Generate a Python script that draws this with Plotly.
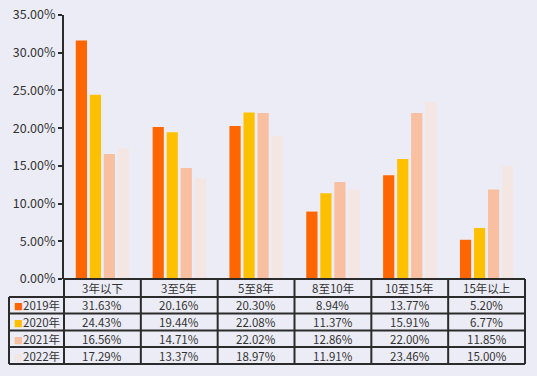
import plotly.graph_objects as go

categories = ["3年以下", "3至5年", "5至8年", "8至10年", "10至15年", "15年以上"]
series_names = ["2019年", "2020年", "2021年", "2022年"]
v2019 = [31.63, 20.16, 20.30, 8.94, 13.77, 5.20]
v2020 = [24.43, 19.44, 22.08, 11.37, 15.91, 6.77]
v2021 = [16.56, 14.71, 22.02, 12.86, 22.00, 11.85]
v2022 = [17.29, 13.37, 18.97, 11.91, 23.46, 15.00]
series_values = [v2019, v2020, v2021, v2022]
colors = ["#FF6600", "#FFC000", "#F8BFA0", "#F3E6E3"]

W, H = 537, 376
L, R, T, B = 64, 525, 15, 279
FONT = "Noto Sans CJK SC, Noto Sans, sans-serif"
LINE = "#2b2b2b"

fig = go.Figure()
for name, vals, c in zip(series_names, series_values, colors):
    fig.add_trace(go.Bar(x=categories, y=vals, name=name, marker_color=c,
                         marker_line_width=0, showlegend=False))

def py(p):
    return (B - p) / (B - T)

def px(p):
    return (p - L) / (R - L)

row_edges = [279, 297, 313.5, 330.5, 347, 364]
ncol = len(categories)
col_w = (R - L) / ncol
col_edges = [L + i * col_w for i in range(ncol + 1)]
label_left = 9

shapes = []
shapes.append(dict(type="line", xref="paper", yref="paper", x0=px(L), x1=px(R),
                   y0=py(row_edges[0]), y1=py(row_edges[0]), line=dict(color=LINE, width=2)))
for r in row_edges[1:]:
    shapes.append(dict(type="line", xref="paper", yref="paper", x0=px(label_left), x1=px(R),
                       y0=py(r), y1=py(r), line=dict(color=LINE, width=2)))
for cx in col_edges:
    shapes.append(dict(type="line", xref="paper", yref="paper", x0=px(cx), x1=px(cx),
                       y0=py(row_edges[0]), y1=py(row_edges[-1]), line=dict(color=LINE, width=2)))
shapes.append(dict(type="line", xref="paper", yref="paper", x0=px(label_left), x1=px(label_left),
                   y0=py(row_edges[1]), y1=py(row_edges[-1]), line=dict(color=LINE, width=2)))

annotations = []
for i, cat in enumerate(categories):
    xc = px((col_edges[i] + col_edges[i + 1]) / 2)
    annotations.append(dict(xref="paper", yref="paper", x=xc, y=py((row_edges[0] + row_edges[1]) / 2),
                            xanchor="center", yanchor="middle",
                            text=cat, showarrow=False, font=dict(size=11.5, color="#333", family=FONT)))
    for j, vals in enumerate(series_values):
        yc = py((row_edges[j + 1] + row_edges[j + 2]) / 2)
        annotations.append(dict(xref="paper", yref="paper", x=xc, y=yc,
                                xanchor="center", yanchor="middle",
                                text=f"{vals[i]:.2f}%", showarrow=False,
                                font=dict(size=11.5, color="#333", family=FONT)))
for j, (name, c) in enumerate(zip(series_names, colors)):
    yc = py((row_edges[j + 1] + row_edges[j + 2]) / 2)
    annotations.append(dict(xref="paper", yref="paper", x=px(label_left + 3), xanchor="left", y=yc,
                            yanchor="middle",
                            text=f"<span style='color:{c};font-size:9px'>■</span>{name}", showarrow=False,
                            font=dict(size=11.5, color="#333", family=FONT)))

fig.update_layout(
    width=W, height=H,
    margin=dict(l=L, r=W - R, t=T, b=H - B, autoexpand=False),
    paper_bgcolor="#ECECF6", plot_bgcolor="rgba(0,0,0,0)",
    barmode="group", bargap=0.27, bargroupgap=0.2,
    shapes=shapes, annotations=annotations,
    font=dict(family=FONT, color="#333"),
)
fig.update_xaxes(showticklabels=False, showgrid=False, zeroline=False, showline=False, ticks="")
fig.update_yaxes(range=[0, 35], dtick=5, tickformat=".2f", ticksuffix="%", showgrid=False,
                 zeroline=False, showline=True, linecolor=LINE, linewidth=2,
                 ticks="outside", ticklen=4, tickwidth=2, tickcolor=LINE,
                 tickfont=dict(size=12.5, color="#333", family=FONT))

fig.write_html("out.html", config={"displayModeBar": False},
               post_script="document.body.style.margin='0px';document.body.style.background='#ECECF6';")
